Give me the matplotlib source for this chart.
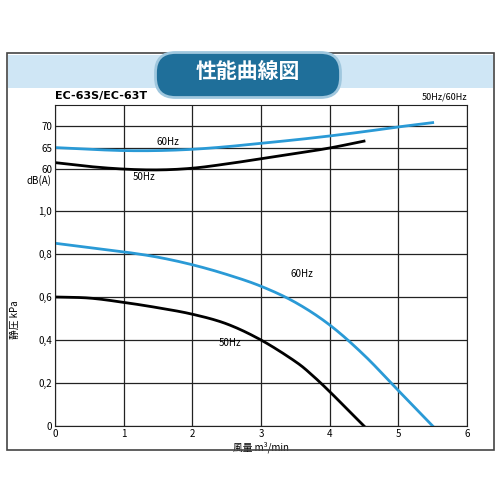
import matplotlib
matplotlib.use("Agg")
import matplotlib.pyplot as plt
from matplotlib.patches import Rectangle, FancyBboxPatch
import numpy as np

plt.rcParams['font.family'] = ['Noto Sans CJK JP', 'DejaVu Sans']

flow_60_db = [0, 0.5, 1, 1.5, 2, 2.5, 3, 3.5, 4, 4.5, 5, 5.5]
db_60 = [65.0, 64.6, 64.3, 64.3, 64.6, 65.2, 66.0, 66.8, 67.7, 68.7, 69.8, 70.8]
flow_50_db = [0, 0.5, 1, 1.5, 2, 2.5, 3, 3.5, 4, 4.5]
db_50 = [61.5, 60.6, 60.0, 59.8, 60.2, 61.2, 62.4, 63.6, 64.9, 66.5]
flow_60_p = [0, 0.5, 1, 1.5, 2, 2.5, 3, 3.5, 4, 4.5, 5, 5.5]
p_60 = [0.85, 0.83, 0.81, 0.785, 0.75, 0.705, 0.65, 0.575, 0.47, 0.33, 0.165, 0.0]
flow_50_p = [0, 0.5, 1, 1.5, 2, 2.5, 3, 3.5, 3.75, 4, 4.25, 4.5]
p_50 = [0.60, 0.595, 0.575, 0.55, 0.52, 0.475, 0.40, 0.30, 0.235, 0.16, 0.08, 0.0]

db_ticks = [60, 65, 70]
p_ticks = [0, 0.2, 0.4, 0.6, 0.8, 1.0]
p_labels = ['0', '0,2', '0,4', '0,6', '0,8', '1,0']

def db2y(d):
    return 1.195 + (np.asarray(d) - 60) * 0.02

def smooth(x, y, n=20):
    # Catmull-Rom spline through the read points
    P = np.column_stack([x, y]).astype(float)
    P = np.vstack([2 * P[0] - P[1], P, 2 * P[-1] - P[-2]])
    out = []
    t = np.linspace(0, 1, n, endpoint=False)[:, None]
    for i in range(1, len(P) - 2):
        p0, p1, p2, p3 = P[i - 1], P[i], P[i + 1], P[i + 2]
        seg = 0.5 * ((2 * p1) + (-p0 + p2) * t + (2 * p0 - 5 * p1 + 4 * p2 - p3) * t**2
                     + (-p0 + 3 * p1 - 3 * p2 + p3) * t**3)
        out.append(seg)
    out.append(P[-2][None, :])
    S = np.vstack(out)
    return S[:, 0], S[:, 1]

fig = plt.figure(figsize=(5, 5), dpi=100)
fig.patches.append(Rectangle((7/500, 1-450/500), 487/500, 397/500, transform=fig.transFigure,
                             fill=False, edgecolor='#444444', lw=1.2))
fig.patches.append(Rectangle((8/500, 1-88/500), 485/500, 33/500, transform=fig.transFigure,
                             facecolor='#cfe6f5', edgecolor='none'))
fig.patches.append(FancyBboxPatch((158/500, 1-95/500), 180/500, 40/500, transform=fig.transFigure,
                                  boxstyle='round,pad=0.005,rounding_size=0.04',
                                  facecolor='#1f6f9a', edgecolor='#9fc7de', lw=2))
fig.text(248/500, 1-72/500, '性能曲線図', color='white', fontsize=15, fontweight='bold',
         ha='center', va='center')

ax = fig.add_axes([55/500, 74/500, 412/500, 321/500])
ax.set_xlim(0, 6)
ax.set_ylim(0, 1.493)
for x in range(7):
    ax.axvline(x, color='#222', lw=0.9)
for y in p_ticks + list(db2y(db_ticks)):
    ax.axhline(y, color='#222', lw=0.9)
ax.set_xticks(range(7))
ax.set_yticks(p_ticks + list(db2y(db_ticks)))
ax.set_yticklabels(p_labels + [str(d) for d in db_ticks])
ax.tick_params(length=0, labelsize=7, pad=2)
for s in ax.spines.values():
    s.set_color('#222')

blue = '#2a9ad6'
ax.plot(*smooth(flow_60_db, db2y(db_60)), color=blue, lw=2)
ax.plot(*smooth(flow_50_db, db2y(db_50)), color='black', lw=2)
ax.plot(*smooth(flow_60_p, p_60), color=blue, lw=2)
ax.plot(*smooth(flow_50_p, p_50), color='black', lw=2)

ax.text(1.65, db2y(66.4), '60Hz', fontsize=7, ha='center', va='center')
ax.text(1.3, db2y(58.2), '50Hz', fontsize=7, ha='center', va='center')
ax.text(3.6, 0.705, '60Hz', fontsize=7, ha='center', va='center')
ax.text(2.55, 0.385, '50Hz', fontsize=7, ha='center', va='center')

ax.text(-0.05, 1.144, 'dB(A)', fontsize=7, ha='right', va='center')
ax.text(0, 1.51, 'EC-63S/EC-63T', fontsize=8, fontweight='bold', ha='left', va='bottom',
        family=['DejaVu Sans'])
ax.text(6, 1.51, '50Hz/60Hz', fontsize=6.5, ha='right', va='bottom')
ax.set_ylabel('静圧 kPa', fontsize=7)
ax.yaxis.set_label_coords(-0.085, 0.33)
ax.set_xlabel('風量 m³/min', fontsize=7, labelpad=2)

fig.savefig('out.png', dpi=100)
